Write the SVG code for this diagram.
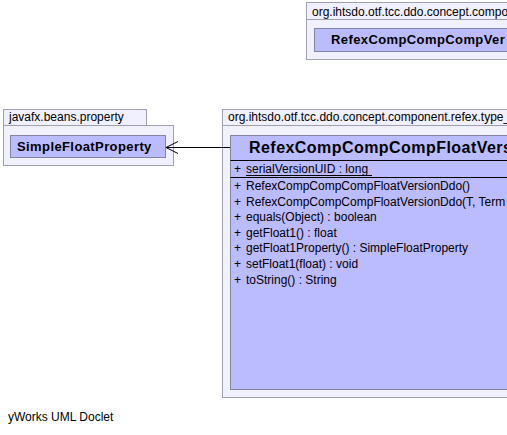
<svg xmlns="http://www.w3.org/2000/svg" width="507" height="435" viewBox="0 0 507 435">
<style>
.pkg{fill:#f0f0ff;stroke:#a0a0b4;stroke-width:1}
.cls{fill:#bbbbff;stroke:#8484a8;stroke-width:1}
.sep{stroke:#000;stroke-width:1}
.t{font-family:"Liberation Sans",Arial,sans-serif;font-size:12px;fill:#000}
.b{font-family:"Liberation Sans",Arial,sans-serif;font-weight:bold;font-size:13px;letter-spacing:0.4px;fill:#000}
.bl{font-family:"Liberation Sans",Arial,sans-serif;font-weight:bold;font-size:16px;letter-spacing:0.45px;fill:#000}
.edge{fill:none;stroke:#000;stroke-width:1}
</style>
<rect width="507" height="435" fill="#fff"/>
<g id="pkg-compver">
<rect class="pkg" x="306.5" y="2.5" width="220" height="17"/>
<rect class="pkg" x="306.5" y="19.5" width="220" height="40"/>
<text class="t" x="312" y="16">org.ihtsdo.otf.tcc.ddo.concept.compo</text>
</g>
<g id="node-compver">
<rect class="cls" x="314.5" y="28.5" width="220" height="23"/>
<text class="b" x="331" y="44">RefexCompCompCompVer</text>
</g>
<g id="pkg-javafx">
<rect class="pkg" x="3.5" y="109.5" width="143" height="16"/>
<rect class="pkg" x="3.5" y="125.5" width="170" height="40"/>
<text class="t" x="9" y="121">javafx.beans.property</text>
</g>
<g id="node-simplefloat">
<rect class="cls" x="10.5" y="135.5" width="155" height="22"/>
<text class="b" x="17" y="151">SimpleFloatProperty</text>
</g>
<g id="pkg-type">
<rect class="pkg" x="222.5" y="109.5" width="300" height="16"/>
<rect class="pkg" x="222.5" y="125.5" width="300" height="272"/>
<text class="t" x="228" y="121">org.ihtsdo.otf.tcc.ddo.concept.component.refex.type_</text>
</g>
<g id="node-floatversion">
<rect class="cls" x="230.5" y="135.5" width="300" height="254"/>
<line class="sep" x1="230.5" y1="160.5" x2="530" y2="160.5"/>
<line class="sep" x1="230.5" y1="177.5" x2="530" y2="177.5"/>
<text class="bl" x="249" y="153">RefexCompCompCompFloatVers</text>
<text class="t" x="234" y="173">+</text>
<text class="t" x="246" y="173">serialVersionUID : long</text>
<line class="sep" x1="246" y1="175.5" x2="372" y2="175.5"/>
<text class="t" x="234" y="190">+</text><text class="t" x="246" y="190">RefexCompCompCompFloatVersionDdo()</text>
<text class="t" x="234" y="206">+</text><text class="t" x="246" y="206">RefexCompCompCompFloatVersionDdo(T, Term</text>
<text class="t" x="234" y="221">+</text><text class="t" x="246" y="221">equals(Object) : boolean</text>
<text class="t" x="234" y="237">+</text><text class="t" x="246" y="237">getFloat1() : float</text>
<text class="t" x="234" y="252">+</text><text class="t" x="246" y="252">getFloat1Property() : SimpleFloatProperty</text>
<text class="t" x="234" y="268">+</text><text class="t" x="246" y="268">setFloat1(float) : void</text>
<text class="t" x="234" y="284">+</text><text class="t" x="246" y="284">toString() : String</text>
</g>
<g id="connectors">
<line class="edge" x1="230" y1="147.5" x2="166" y2="147.5"/>
<polyline class="edge" points="178,141.5 166,147.5 178,153.5"/>
</g>
<text class="t" x="8" y="421">yWorks UML Doclet</text>
</svg>
